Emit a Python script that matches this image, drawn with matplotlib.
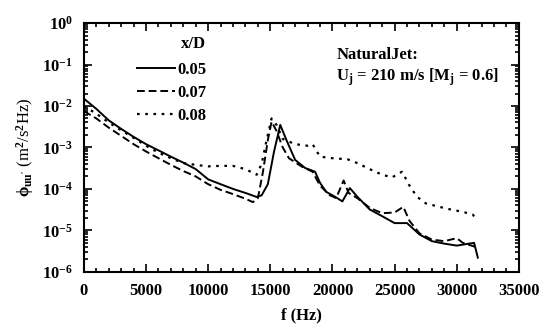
import matplotlib.pyplot as plt
from matplotlib.ticker import MultipleLocator, LogLocator, NullFormatter, FixedLocator

plt.rcParams['font.family'] = 'Liberation Serif'
plt.rcParams['font.weight'] = 'bold'
plt.rcParams['mathtext.fontset'] = 'custom'
plt.rcParams['mathtext.rm'] = 'Liberation Serif:bold'
plt.rcParams['mathtext.it'] = 'Liberation Serif:bold'
plt.rcParams['mathtext.bf'] = 'Liberation Serif:bold'

# x/D = 0.05
f_05 = [0, 1000, 2000, 3000, 4000, 5000, 6000, 7000, 8000, 9000, 10000, 11000,
        12000, 13000, 13900, 14300, 14800, 15300, 15800, 16300, 17000, 17800,
        18600, 19000, 19500, 20200, 20800, 21400, 22000, 23000, 24000, 25000,
        26000, 27000, 28000, 29000, 30000, 31000, 31400, 31700]
p_05 = [1.5e-2, 8.5e-3, 4.5e-3, 2.8e-3, 1.8e-3, 1.2e-3, 8.5e-4, 6.0e-4, 4.3e-4,
        3.0e-4, 1.7e-4, 1.3e-4, 1.0e-4, 8.0e-5, 6.4e-5, 7e-5, 1.3e-4, 8e-4,
        3.5e-3, 1.5e-3, 5e-4, 3.2e-4, 2.6e-4, 1.4e-4, 8.5e-5, 6.5e-5, 5e-5,
        1.05e-4, 6.5e-5, 3.2e-5, 2.2e-5, 1.5e-5, 1.5e-5, 8e-6, 5.5e-6, 4.8e-6,
        4.3e-6, 4.8e-6, 5e-6, 2.2e-6]

# x/D = 0.07
f_07 = [0, 1000, 2000, 3000, 4000, 5000, 6000, 7000, 8000, 9000, 10000, 11000,
        12000, 13000, 13600, 14000, 14400, 14800, 15100, 15500, 16000, 16500,
        17500, 18400, 19000, 19800, 20300, 20900, 21300, 22000, 23000, 24000,
        25000, 25700, 26200, 27000, 28000, 29000, 30000, 30500, 31500]
p_07 = [7.5e-3, 5.0e-3, 3.0e-3, 1.9e-3, 1.2e-3, 8e-4, 5.5e-4, 3.8e-4, 2.7e-4,
        2e-4, 1.3e-4, 9.5e-5, 7.5e-5, 5.8e-5, 4.8e-5, 6e-5, 2.5e-4, 1.5e-3,
        4.2e-3, 2.5e-3, 1.0e-3, 5.5e-4, 3.5e-4, 2.6e-4, 1.2e-4, 7e-5, 6e-5,
        1.6e-4, 8e-5, 6e-5, 3.5e-5, 2.6e-5, 2.7e-5, 3.7e-5, 1.7e-5, 8.5e-6,
        6e-6, 5.5e-6, 6.5e-6, 5e-6, 4e-6]

# x/D = 0.08
f_08 = [0, 1000, 2000, 3000, 4000, 5000, 6000, 7000, 8000, 9000, 10000, 11000,
        12000, 13000, 13900, 14300, 14700, 15100, 15500, 16000, 17000, 18000,
        18400, 19000, 20000, 21200, 22000, 23000, 24000, 24800, 25600, 26200,
        26800, 27500, 28600, 29500, 30500, 31300, 31600]
p_08 = [1.0e-2, 6.5e-3, 4e-3, 2.6e-3, 1.7e-3, 1.1e-3, 7.5e-4, 5.5e-4, 4.2e-4,
        3.8e-4, 3.5e-4, 3.6e-4, 3.6e-4, 3.0e-4, 2.2e-4, 4e-4, 1.5e-3, 5e-3,
        3.5e-3, 1.6e-3, 1.2e-3, 1.1e-3, 1.2e-3, 6e-4, 5.5e-4, 5.2e-4, 4.2e-4,
        3e-4, 2.2e-4, 1.9e-4, 2.6e-4, 1.2e-4, 6.5e-5, 4.5e-5, 3.7e-5, 3.2e-5,
        2.8e-5, 2.4e-5, 1.8e-5]

labels = ['0.05', '0.07', '0.08']

fig = plt.figure(figsize=(5.45, 3.34), dpi=100)
ax = fig.add_axes([0.154, 0.186, 0.798, 0.745])

ax.plot(f_05, p_05, color='black', lw=1.4, ls='-', label=labels[0])
ax.plot(f_07, p_07, color='black', lw=1.4, ls=(0, (4, 2)), label=labels[1])
ax.plot(f_08, p_08, color='black', lw=1.6, ls=(0, (1.2, 2.5)), label=labels[2])

ax.set_yscale('log')
ax.set_xlim(0, 35000)
ax.set_ylim(1e-6, 1)
ax.xaxis.set_major_locator(MultipleLocator(5000))
ax.xaxis.set_minor_locator(MultipleLocator(1000))
ax.yaxis.set_major_locator(FixedLocator([1e-6, 1e-5, 1e-4, 1e-3, 1e-2, 1e-1, 1]))
ax.yaxis.set_minor_locator(LogLocator(base=10, subs=range(2, 10), numticks=20))
ax.yaxis.set_minor_formatter(NullFormatter())
ax.set_yticklabels([r'$10^{-6}$', r'$10^{-5}$', r'$10^{-4}$', r'$10^{-3}$',
                    r'$10^{-2}$', r'$10^{-1}$', r'$10^{0}$'])
ax.tick_params(which='both', direction='in', top=True, right=True, width=1.2)
ax.tick_params(which='major', length=6, labelsize=12, pad=8)
ax.tick_params(which='minor', length=3)
for s in ax.spines.values():
    s.set_linewidth(1.5)
for t in ax.get_xticklabels():
    t.set_fontweight('bold')

ax.set_xlabel('f (Hz)', fontsize=12, fontweight='bold', labelpad=6)
ax.set_ylabel(r"$\phi_{uu'}$ (m$^2$/s$^2$Hz)", fontsize=12, labelpad=4)

leg = ax.legend(loc='upper left', bbox_to_anchor=(0.107, 0.975), frameon=False,
                title='x/D', fontsize=12, handlelength=2.3, handletextpad=0.1,
                labelspacing=0.42, borderaxespad=0, alignment='right')
leg.get_title().set_fontsize(12)
leg.get_title().set_fontweight('bold')
leg._legend_box.sep = 7

ax.text(0.58, 0.855, 'NaturalJet:', transform=ax.transAxes, fontsize=12,
        fontweight='bold')
ax.text(0.58, 0.77, r'U$_\mathrm{j}$ = 210 m/s [M$_\mathrm{j}$ = 0.6]',
        transform=ax.transAxes, fontsize=12, fontweight='bold')

fig.savefig('out.png', dpi=100)
plt.close()
